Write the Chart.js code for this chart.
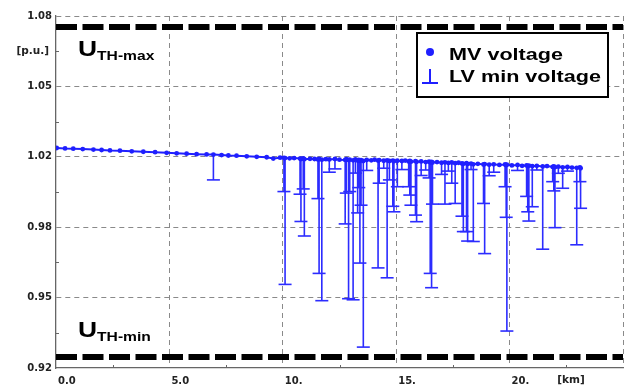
<!DOCTYPE html>
<html><head><meta charset="utf-8">
<script src="https://cdn.jsdelivr.net/npm/chart.js@4/dist/chart.umd.min.js"></script>
<style>html,body{margin:0;padding:0;background:#fff;}#c{display:block;}</style>
</head><body>
<canvas id="c" width="632" height="389"></canvas>
<script>
// ---- data ----
const distanceKm = [
 0.03,0.40,0.76,1.18,1.65,2.01,2.38,2.82,3.34,3.85,4.37,4.88,5.32,5.76,6.20,6.64,6.94,7.30,7.60,7.96,
 8.41,8.85,9.29,9.58,9.88,10.05,10.10,10.30,10.50,10.76,10.80,10.90,10.95,11.20,11.40,11.55,11.60,11.72,11.90,12.05,
 12.30,12.50,12.75,12.80,12.90,12.95,13.10,13.20,13.30,13.35,13.40,13.45,13.55,13.70,13.90,14.05,14.20,14.25,14.45,14.60,
 14.70,14.85,14.90,15.05,15.25,15.40,15.55,15.60,15.65,15.85,15.90,16.10,16.30,16.45,16.50,16.56,16.60,16.80,17.00,17.15,
 17.30,17.45,17.60,17.75,17.90,17.96,18.10,18.15,18.30,18.40,18.60,18.85,18.90,19.10,19.30,19.55,19.80,19.85,19.88,20.10,
 20.35,20.55,20.75,20.80,20.85,21.00,21.20,21.46,21.65,21.90,21.95,22.00,22.15,22.34,22.55,22.75,22.96,23.10,23.13
];
const mvVoltage = [
 1.0200,1.0198,1.0197,1.0195,1.0193,1.0191,1.0189,1.0188,1.0185,1.0183,1.0181,1.0178,1.0176,1.0174,1.0172,1.0171,1.0170,1.0168,1.0166,1.0165,
 1.0162,1.0160,1.0158,1.0152,1.0156,1.0155,1.0154,1.0153,1.0154,1.0152,1.0150,1.0153,1.0149,1.0151,1.0150,1.0148,1.0150,1.0147,1.0149,1.0148,
 1.0150,1.0147,1.0146,1.0149,1.0145,1.0147,1.0144,1.0148,1.0143,1.0146,1.0142,1.0145,1.0141,1.0146,1.0144,1.0147,1.0143,1.0145,1.0142,1.0144,
 1.0141,1.0143,1.0140,1.0142,1.0141,1.0143,1.0139,1.0141,1.0138,1.0140,1.0137,1.0139,1.0136,1.0138,1.0135,1.0137,1.0134,1.0136,1.0133,1.0135,
 1.0132,1.0134,1.0131,1.0133,1.0130,1.0128,1.0131,1.0127,1.0129,1.0126,1.0128,1.0125,1.0127,1.0124,1.0126,1.0123,1.0125,1.0122,1.0124,1.0121,
 1.0123,1.0119,1.0121,1.0118,1.0120,1.0117,1.0119,1.0116,1.0118,1.0114,1.0116,1.0113,1.0115,1.0112,1.0114,1.0111,1.0110,1.0112,1.0108
];
const lvMinVoltage = [
 null,null,null,null,null,null,null,null,null,null,null,null,null,null,null,null,1.0055,null,null,null,
 null,null,null,null,null,1.0002,0.9580,null,null,0.9990,0.9866,1.0014,0.9800,null,null,0.9970,0.9630,0.9506,null,1.0090,
 1.0105,null,0.9855,0.9995,0.9515,1.0002,0.9510,1.0086,0.9905,1.0020,0.9677,0.9940,0.9295,1.0098,null,null,0.9655,1.0040,1.0108,0.9610,
 1.0055,0.9935,0.9910,1.0024,1.0102,null,1.0024,0.9986,0.9940,0.9895,0.9865,1.0075,1.0100,1.0064,0.9630,0.9565,0.9945,null,1.0080,0.9945,
 1.0095,1.0040,0.9948,null,0.9890,0.9820,0.9820,0.9777,1.0102,0.9775,null,0.9948,0.9720,1.0074,1.0090,null,1.0024,0.9885,0.9368,null,
 1.0098,null,0.9980,0.9910,0.9868,0.9933,1.0100,0.9740,null,1.0047,1.0005,0.9838,1.0085,1.0017,1.0095,null,0.9760,1.0047,0.9926
];
const thresholdMax = 1.075;
const thresholdMin = 0.925;
const yTicks = [0.92, 0.952, 0.984, 1.016, 1.048, 1.08];
const yTickLabels = ["0.92", "0.95", "0.98", "1.02", "1.05", "1.08"];
const xTicks = [0, 5, 10, 15, 20, 25];
const xTickLabels = ["0.0", "5.0", "10.", "15.", "20.", ""];
const xMinorTicks = [2.5, 7.5, 12.5, 17.5, 22.5];
const yMinorTicks = [0.936, 0.968, 1.0, 1.032, 1.064];
const xUnit = "[km]";
const yUnit = "[p.u.]";
const legendLabels = ["MV voltage", "LV min voltage"];
const thresholdLabels = ["TH-max", "TH-min"];

// ---- build library datasets ----
const BLUE = '#1f1fff';
const BAR_BLUE = '#2c2cff';
const mvPoints = distanceKm.map((x, i) => ({x, y: mvVoltage[i]}));
const barPoints = [];
const capPoints = [];
distanceKm.forEach((x, i) => {
  if (lvMinVoltage[i] == null) return;
  barPoints.push({x, y: mvVoltage[i]}, {x, y: lvMinVoltage[i]}, {x, y: null});
  capPoints.push({x, y: lvMinVoltage[i]});
});
const xMin = xTicks[0], xMax = xTicks[xTicks.length - 1];

function drawScaledText(ctx, text, x, baseline, font, sx) {
  ctx.save();
  ctx.translate(x, baseline);
  ctx.scale(sx, 1);
  ctx.font = font;
  ctx.fillText(text, 0, 0);
  const w = ctx.measureText(text).width * sx;
  ctx.restore();
  return w;
}

const decor = {
  id: 'decor',
  afterDatasetsDraw(chart) {
    const {ctx, chartArea: a, scales: {x, y}} = chart;
    ctx.save();
    // minor ticks
    ctx.strokeStyle = '#666'; ctx.lineWidth = 1;
    xMinorTicks.forEach(v => { const p = Math.round(x.getPixelForValue(v)) + 0.5; ctx.beginPath(); ctx.moveTo(p, a.bottom); ctx.lineTo(p, a.bottom - 3); ctx.stroke(); });
    yMinorTicks.forEach(v => { const p = Math.round(y.getPixelForValue(v)) + 0.5; ctx.beginPath(); ctx.moveTo(a.left, p); ctx.lineTo(a.left + 3, p); ctx.stroke(); });
    // unit labels
    ctx.fillStyle = '#222';
    ctx.font = 'bold 10.5px "DejaVu Sans"';
    ctx.textBaseline = 'top'; ctx.textAlign = 'left';
    ctx.fillText(xUnit, x.getPixelForValue(22.1), a.bottom + 7);
    ctx.textBaseline = 'middle'; ctx.textAlign = 'right';
    ctx.fillText(yUnit, a.left - 7, y.getPixelForValue(1.064));
    // threshold labels
    ctx.fillStyle = '#000'; ctx.textAlign = 'left'; ctx.textBaseline = 'alphabetic';
    const ux = x.getPixelForValue(0) + 22;
    [[thresholdMax, 29, thresholdLabels[0]], [thresholdMin, -20, thresholdLabels[1]]].forEach(([v, off, sub]) => {
      const base = y.getPixelForValue(v) + off;
      const w = drawScaledText(ctx, 'U', ux, base, 'bold 22px "Liberation Sans"', 1.2);
      drawScaledText(ctx, sub, ux + w, base + 3.5, 'bold 12.5px "Liberation Sans"', 1.25);
    });
    // legend
    const lx = 417, ly = 33, lw = 191, lh = 64;
    ctx.fillStyle = '#fff'; ctx.fillRect(lx, ly, lw, lh);
    ctx.strokeStyle = '#000'; ctx.lineWidth = 2; ctx.strokeRect(lx, ly, lw, lh);
    ctx.fillStyle = BLUE;
    ctx.beginPath(); ctx.arc(430, 52, 4, 0, Math.PI * 2); ctx.fill();
    ctx.strokeStyle = BLUE; ctx.lineWidth = 2;
    ctx.beginPath(); ctx.moveTo(430, 69); ctx.lineTo(430, 83); ctx.moveTo(422, 83); ctx.lineTo(438, 83); ctx.stroke();
    ctx.fillStyle = '#000';
    drawScaledText(ctx, legendLabels[0], 449, 60, 'bold 17px "Liberation Sans"', 1.27);
    drawScaledText(ctx, legendLabels[1], 449, 82, 'bold 17px "Liberation Sans"', 1.27);
    ctx.restore();
  }
};

const tickFont = {family: '"DejaVu Sans"', size: 10, weight: 'bold'};
new Chart(document.getElementById('c'), {
  type: 'line',
  data: {
    datasets: [
      {label: 'UTH-max', data: [{x: xMin, y: thresholdMax}, {x: xMax, y: thresholdMax}], borderColor: '#000', borderWidth: 6, borderDash: [21, 5.5], pointRadius: 0, order: 4},
      {label: 'UTH-min', data: [{x: xMin, y: thresholdMin}, {x: xMax, y: thresholdMin}], borderColor: '#000', borderWidth: 6, borderDash: [21, 5.5], pointRadius: 0, order: 4},
      {label: 'LV min bars', data: barPoints, borderColor: BAR_BLUE, borderWidth: 1.6, pointRadius: 0, spanGaps: false, order: 3},
      {label: 'LV min voltage', data: capPoints, showLine: false, borderColor: BAR_BLUE, backgroundColor: BAR_BLUE, pointStyle: 'line', pointRadius: 6.5, pointBorderWidth: 1.6, order: 2},
      {label: 'MV voltage', data: mvPoints, borderColor: BLUE, backgroundColor: BLUE, borderWidth: 2, pointRadius: 2.4, pointBorderWidth: 0, pointBackgroundColor: BLUE, order: 1}
    ]
  },
  options: {
    responsive: false,
    animation: false,
    events: [],
    layout: {padding: {top: 16, right: 9, left: 0, bottom: 0}},
    plugins: {legend: {display: false}, tooltip: {enabled: false}},
    scales: {
      x: {
        type: 'linear', min: xMin, max: xMax,
        afterBuildTicks: s => { s.ticks = xTicks.map(v => ({value: v})); },
        afterFit: s => { s.height = 21; },
        ticks: {callback: (v, i) => xTickLabels[i], font: tickFont, color: '#222', align: 'start', labelOffset: 2, padding: 7, maxRotation: 0, autoSkip: false},
        grid: {color: c => (c.tick && c.tick.value === xMin) ? 'rgba(0,0,0,0)' : '#8a8a8a', lineWidth: 1, drawTicks: false},
        border: {display: true, color: '#666', width: 1.3, dash: [5, 4]}
      },
      y: {
        type: 'linear', min: yTicks[0], max: yTicks[yTicks.length - 1],
        afterBuildTicks: s => { s.ticks = yTicks.map(v => ({value: v})); },
        afterFit: s => { s.width = 56; },
        ticks: {callback: (v, i) => yTickLabels[i], font: tickFont, color: '#222', padding: 4, autoSkip: false},
        grid: {color: c => (c.tick && c.tick.value === yTicks[0]) ? 'rgba(0,0,0,0)' : '#8a8a8a', lineWidth: 1, drawTicks: false},
        border: {display: true, color: '#666', width: 1.3, dash: [5, 4]}
      }
    }
  },
  plugins: [decor]
});
</script>
</body></html>
